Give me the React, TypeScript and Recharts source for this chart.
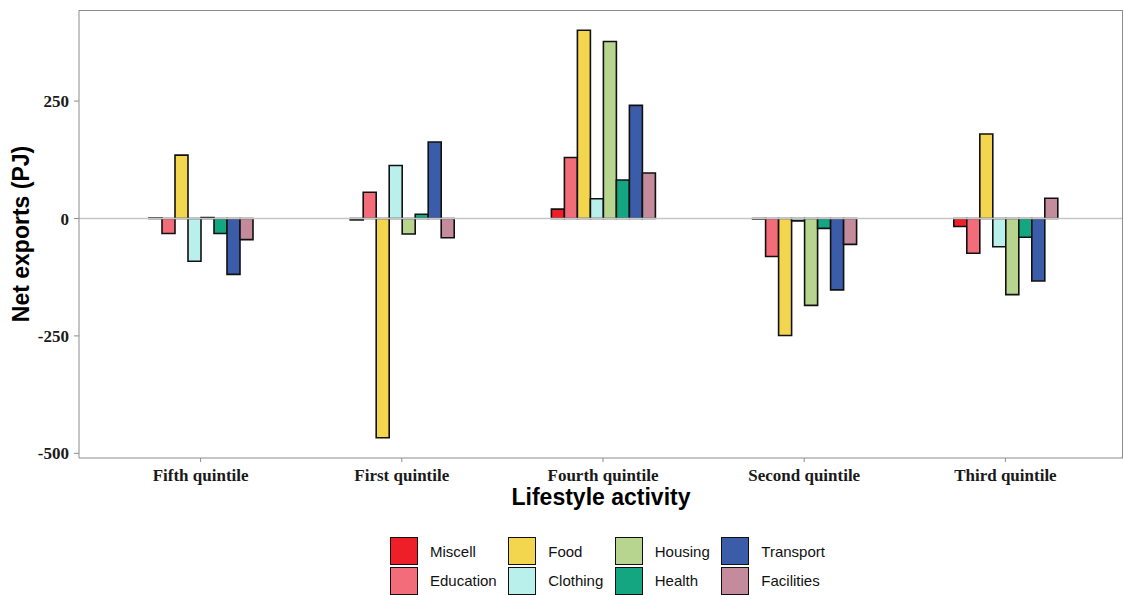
import {
  BarChart,
  Bar,
  XAxis,
  YAxis,
  ReferenceLine,
  Label,
} from 'recharts';

const categories = [
  'Fifth quintile',
  'First quintile',
  'Fourth quintile',
  'Second quintile',
  'Third quintile',
];

const miscell = [1, -3, 20, -1, -17];
const education = [-32, 56, 130, -81, -74];
const food = [135, -467, 401, -249, 180];
const clothing = [-91, 113, 42, -5, -60];
const housing = [2, -33, 377, -185, -162];
const health = [-32, 9, 82, -21, -40];
const transport = [-119, 163, 241, -152, -133];
const facilities = [-45, -41, 97, -55, 43];

const yTicks = [-500, -250, 0, 250];

const series = [
  { key: 'Miscell', values: miscell, color: '#ee1f29' },
  { key: 'Education', values: education, color: '#f26d79' },
  { key: 'Food', values: food, color: '#f3d54e' },
  { key: 'Clothing', values: clothing, color: '#b9f0eb' },
  { key: 'Housing', values: housing, color: '#b8d590' },
  { key: 'Health', values: health, color: '#13a680' },
  { key: 'Transport', values: transport, color: '#3b5ca9' },
  { key: 'Facilities', values: facilities, color: '#c48b9c' },
];

const data = categories.map((name, i) => {
  const row: Record<string, string | number> = { name };
  series.forEach((s) => {
    row[s.key] = s.values[i];
  });
  return row;
});

// legend is filled column by column, two rows
const legendColumns = [
  [series[0], series[1]],
  [series[2], series[3]],
  [series[4], series[5]],
  [series[6], series[7]],
];

const serifBold = {
  fontFamily: '"Liberation Serif", "Times New Roman", serif',
  fontWeight: 700,
  fontSize: 17,
  fill: '#1a1a1a',
};

const axisGrey = '#8c8c8c';

export default function App() {
  return (
    <div
      style={{
        position: 'absolute',
        left: 0,
        top: 0,
        width: 1124,
        height: 595,
        background: '#fff',
      }}
    >
      <BarChart
        width={1124}
        height={595}
        data={data}
        margin={{ top: 10, right: 1, bottom: 87, left: 0 }}
        barGap={0}
        barSize={13}
      >
        <XAxis
          dataKey="name"
          padding={{ left: 21, right: 17 }}
          height={50}
          tick={serifBold}
          tickSize={4}
          tickMargin={7}
          stroke={axisGrey}
          tickLine={{ stroke: axisGrey }}
          axisLine={{ stroke: axisGrey }}
        >
          <Label
            value="Lifestyle activity"
            position="insideBottom"
            offset={3}
            style={{
              fontFamily: '"Liberation Sans", Arial, sans-serif',
              fontWeight: 700,
              fontSize: 23,
              fill: '#000',
            }}
          />
        </XAxis>
        <YAxis
          domain={[-510, 444]}
          ticks={yTicks}
          width={79}
          tick={serifBold}
          tickSize={5}
          tickMargin={5}
          tickLine={{ stroke: axisGrey }}
          axisLine={{ stroke: axisGrey }}
        >
          <Label
            value="Net exports (PJ)"
            position="center"
            angle={-90}
            dx={-19}
            style={{
              fontFamily: '"Liberation Sans", Arial, sans-serif',
              fontWeight: 700,
              fontSize: 23,
              fill: '#000',
            }}
          />
        </YAxis>
        <ReferenceLine y={0} stroke="#c6c6c6" strokeWidth={1.5} />
        {series.map((s) => (
          <Bar
            key={s.key}
            dataKey={s.key}
            fill={s.color}
            stroke="#111"
            strokeWidth={1.6}
            isAnimationActive={false}
          />
        ))}
      </BarChart>

      {/* panel border, top and right sides */}
      <div
        style={{
          position: 'absolute',
          left: 79,
          top: 10,
          width: 1044,
          height: 448,
          borderTop: `1px solid ${axisGrey}`,
          borderRight: `1px solid ${axisGrey}`,
          boxSizing: 'border-box',
          pointerEvents: 'none',
        }}
      />

      <div
        style={{
          position: 'absolute',
          left: 390,
          top: 537,
          display: 'flex',
          gap: 11.5,
          fontFamily: '"Liberation Sans", Arial, sans-serif',
          fontSize: 15,
          color: '#111',
        }}
      >
        {legendColumns.map((col, ci) => (
          <div key={ci} style={{ display: 'flex', flexDirection: 'column', gap: 1.5 }}>
            {col.map((s) => (
              <div key={s.key} style={{ display: 'flex', alignItems: 'center', height: 28 }}>
                <span
                  style={{
                    boxSizing: 'border-box',
                    width: 28,
                    height: 28,
                    background: s.color,
                    border: '1.5px solid #111',
                    marginRight: 12,
                  }}
                />
                <span>{s.key}</span>
              </div>
            ))}
          </div>
        ))}
      </div>
    </div>
  );
}
